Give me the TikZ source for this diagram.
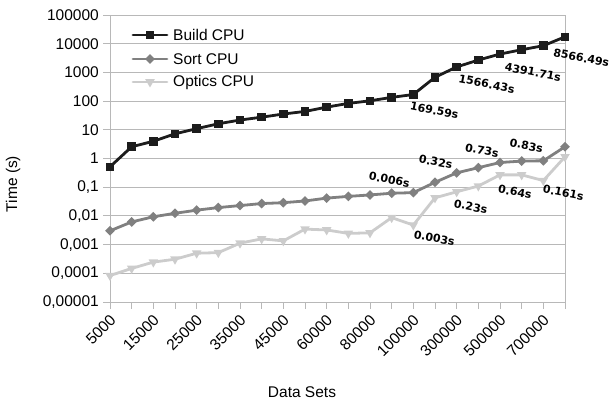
\documentclass[tikz,border=0pt]{standalone}
\usepackage{fontspec}
\setmainfont{Liberation Sans}
\newfontfamily\valuefont{DejaVu Sans}
\usetikzlibrary{calc,shapes.geometric}
\definecolor{buildgray}{RGB}{28,28,28}
\definecolor{sortgray}{RGB}{128,128,128}
\definecolor{opticsgray}{RGB}{204,204,204}
\definecolor{gridgray}{RGB}{184,184,184}
\tikzset{
  gridline/.style={draw=gridgray, line width=0.9pt},
  series/.style={line width=2.8pt, line join=round, line cap=round},
  mark-build/.style={
    rectangle,
    fill=buildgray,
    minimum size=8.5pt,
    inner sep=0pt
  },
  mark-sort/.style={
    diamond,
    fill=sortgray,
    minimum size=10pt,
    inner sep=0pt
  },
  mark-optics/.style={
    regular polygon,
    regular polygon sides=3,
    shape border rotate=180,
    fill=opticsgray,
    minimum size=11pt,
    inner sep=0pt
  },
  ticklabel/.style={font=\fontsize{15.5}{18}\selectfont, inner sep=0pt},
  timelabel/.style={
    font=\valuefont\bfseries\fontsize{11}{13}\selectfont,
    rotate=-11,
    inner sep=0pt
  }
}

\begin{document}
\begin{tikzpicture}[x=1pt,y=1pt]
  \useasboundingbox (0,0) rectangle (614,400);

  % plot area: one unit per data set, one unit per decade
  \begin{scope}[shift={(110,241.5)}, x=21.667pt, y=28.7pt]
    \foreach \k in {-5,...,5}
      \draw[gridline] (0,\k) ++(-7pt,0) -- (21,\k);
    \draw[gridline] (0,-5) ++(0,-7pt) -- (0,5);
    \draw[gridline] (21,-5) ++(0,-7pt) -- (21,5);
    \foreach \i in {1,...,20}
      \draw[gridline] (\i,-5) -- ++(0,-7pt);

    % y axis labels
    \foreach \k/\txt in {-5/{0,00001}, -4/{0,0001}, -3/{0,001}, -2/{0,01},
        -1/{0,1}, 0/1, 1/10, 2/100, 3/1000, 4/10000, 5/100000}
      \node[ticklabel, anchor=east] at ($(0,\k)+(-11pt,0)$) {\txt};

    % x axis labels
    \foreach \i/\txt in {0/5000, 2/15000, 4/25000, 6/35000, 8/45000, 10/60000,
        12/80000, 14/100000, 16/300000, 18/500000, 20/700000}
      \node[ticklabel, rotate=45, anchor=east] at ($(\i,-5)+(3pt,-15pt)$) {\txt};

    % log10 of the measured times
    \foreach \y [count=\i from 0] in {-0.29,0.41,0.60,0.86,1.04,1.21,1.34,1.44,
        1.55,1.64,1.79,1.92,2.01,2.13,2.23,2.83,3.19,3.43,3.64,3.79,3.93,4.24}
      \coordinate (b\i) at (\i,\y);
    \foreach \y [count=\i from 0] in {-2.52,-2.21,-2.03,-1.91,-1.80,-1.71,-1.64,
        -1.57,-1.54,-1.48,-1.38,-1.32,-1.27,-1.21,-1.19,-0.83,-0.50,-0.32,-0.14,
        -0.09,-0.08,0.41}
      \coordinate (s\i) at (\i,\y);
    \foreach \y [count=\i from 0] in {-4.08,-3.83,-3.61,-3.51,-3.30,-3.28,-2.95,
        -2.80,-2.87,-2.46,-2.49,-2.61,-2.59,-2.06,-2.32,-1.37,-1.16,-0.96,-0.57,
        -0.57,-0.77,0.06}
      \coordinate (o\i) at (\i,\y);

    \draw[series, buildgray] (b0) \foreach \i in {1,...,21} {-- (b\i)};
    \foreach \i in {0,...,21}
      \node[mark-build] at (b\i) {};
    \draw[series, sortgray] (s0) \foreach \i in {1,...,21} {-- (s\i)};
    \foreach \i in {0,...,21}
      \node[mark-sort] at (s\i) {};
    \draw[series, opticsgray] (o0) \foreach \i in {1,...,21} {-- (o\i)};
    \foreach \i in {0,...,21}
      \node[mark-optics] at (o\i) {};

    % value labels
    \node[timelabel] at ($(b14)+(21pt,-16pt)$) {169.59s};
    \node[timelabel] at ($(b16)+(30pt,-17pt)$) {1566.43s};
    \node[timelabel] at ($(b18)+(33pt,-18pt)$) {4391.71s};
    \node[timelabel] at ($(b20)+(38pt,-12pt)$) {8566.49s};
    \node[timelabel] at ($(s14)+(-24pt,13pt)$) {0.006s};
    \node[timelabel] at ($(s16)+(-21pt,11pt)$) {0.32s};
    \node[timelabel] at ($(s18)+(-18pt,12pt)$) {0.73s};
    \node[timelabel] at ($(s20)+(-17pt,15pt)$) {0.83s};
    \node[timelabel] at ($(o14)+(21pt,-13pt)$) {0.003s};
    \node[timelabel] at ($(o16)+(14pt,-15pt)$) {0.23s};
    \node[timelabel] at ($(o18)+(15pt,-17pt)$) {0.64s};
    \node[timelabel] at ($(o20)+(20pt,-12pt)$) {0.161s};
  \end{scope}

  % legend
  \draw[series, buildgray] (133,365) -- (167,365);
  \node[mark-build] at (150,365) {};
  \node[ticklabel, anchor=west] at (173,365) {Build CPU};
  \draw[series, sortgray] (133,341) -- (167,341);
  \node[mark-sort] at (150,341) {};
  \node[ticklabel, anchor=west] at (173,341) {Sort CPU};
  \draw[series, opticsgray] (133,318) -- (167,318);
  \node[mark-optics] at (150,318) {};
  \node[ticklabel, anchor=west] at (173,318) {Optics CPU};

  % axis titles
  \node[ticklabel, rotate=90] (ytitle) at (13,216) {Time (s)};
  \node[ticklabel] (xtitle) at (302,8) {Data Sets};
\end{tikzpicture}
\end{document}
